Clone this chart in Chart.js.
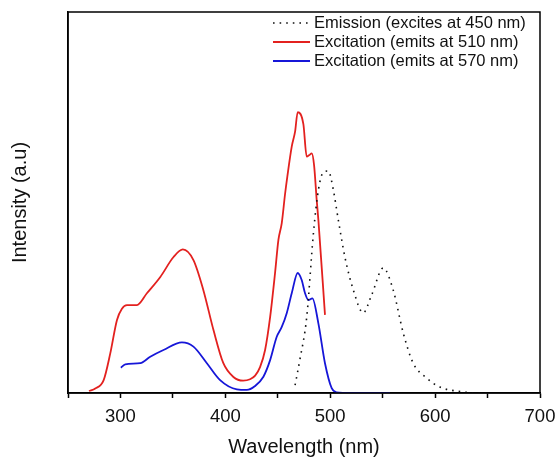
<!DOCTYPE html>
<html>
<head>
<meta charset="utf-8">
<script src="https://cdn.jsdelivr.net/npm/chart.js@4"></script>
<style>
  html, body { margin: 0; padding: 0; background: #fff; }
  #wrap { width: 559px; height: 459px; }
</style>
</head>
<body>
<div id="wrap"><canvas id="grafico" width="559" height="459"></canvas></div>
<script>
// emission spectrum (excited at 450 nm)
var emisLambda = [466.5, 471, 477.6, 484, 488.7, 493.5, 498.2, 503, 507.7, 514, 522, 531.5, 539.5, 550.6, 560, 569.6, 579, 592, 604.6, 620.5, 642.7, 650];
var emisInt = [0.028, 0.117, 0.27, 0.569, 0.722, 0.786, 0.79, 0.722, 0.616, 0.484, 0.367, 0.285, 0.349, 0.445, 0.367, 0.214, 0.107, 0.053, 0.021, 0.007, 0.0, 0.0];

// excitation, emission monitored at 510 nm
var exc510Lambda = [270, 276, 284, 290.3, 296.7, 301.4, 306.2, 315.7, 325.2, 338, 350.6, 359.5, 369.6, 379, 388.7, 398, 407.7, 417, 423.6, 428.4, 433.1, 437.9, 442.7, 447.4, 450.6, 453.8, 457, 459.1, 463.3, 466.5, 469, 474.4, 477.6, 480.1, 482.4, 484.6, 487.1, 488.7, 495];
var exc510Int = [0.007, 0.016, 0.046, 0.141, 0.26, 0.30, 0.313, 0.313, 0.355, 0.413, 0.484, 0.511, 0.473, 0.367, 0.224, 0.107, 0.057, 0.044, 0.049, 0.062, 0.092, 0.153, 0.27, 0.427, 0.545, 0.605, 0.71, 0.77, 0.877, 0.93, 1.0, 0.957, 0.841, 0.847, 0.853, 0.811, 0.687, 0.616, 0.278];

// excitation, emission monitored at 570 nm
var exc570Lambda = [300.4, 304.6, 318.9, 328.4, 341, 358.6, 369.6, 382.4, 395, 411, 420.5, 428, 436.3, 442.7, 449, 453.8, 458.6, 463.3, 469, 472.8, 476, 479.2, 483, 488.7, 495, 501.4, 506, 520, 557];
var exc570Int = [0.09, 0.102, 0.106, 0.129, 0.153, 0.18, 0.165, 0.106, 0.046, 0.013, 0.011, 0.024, 0.058, 0.117, 0.2, 0.235, 0.285, 0.355, 0.427, 0.402, 0.355, 0.331, 0.337, 0.248, 0.106, 0.017, 0.002, 0.0, 0.0];

var xTicks = [300, 400, 500, 600, 700];
var nomes = ["Emission (excites at 450 nm)", "Excitation (emits at 510 nm)", "Excitation (emits at 570 nm)"];

function pares(xs, ys) {
    return xs.map(function(x, i) { return { x: x, y: ys[i] }; });
}

var fonte = "'Liberation Sans', Arial, sans-serif";

// box around plot + legend inside the plot area
var caixaPlugin = {
    id: "caixa",
    afterDraw: function(chart) {
        var ctx = chart.ctx;
        var a = chart.chartArea;
        ctx.save();
        ctx.strokeStyle = "#000";
        ctx.lineWidth = 1.5;
        ctx.strokeRect(a.left, a.top, a.right - a.left, a.bottom - a.top);

        ctx.font = "16.5px " + fonte;
        ctx.textBaseline = "middle";
        ctx.fillStyle = "#111";
        chart.data.datasets.forEach(function(ds, i) {
            var y = a.top + 11 + i * 19;
            ctx.beginPath();
            ctx.strokeStyle = ds.borderColor;
            ctx.lineWidth = ds.borderWidth;
            ctx.setLineDash(ds.borderDash || []);
            ctx.moveTo(a.left + 205, y);
            ctx.lineTo(a.left + 242, y);
            ctx.stroke();
            ctx.setLineDash([]);
            ctx.fillText(ds.label, a.left + 246, y);
        });
        ctx.restore();
    }
};

var ctx = document.getElementById("grafico").getContext("2d");
var grafico = new Chart(ctx, {
    type: "line",
    data: {
        datasets: [{
            label: nomes[0],
            data: pares(emisLambda, emisInt),
            borderColor: "#111",
            borderWidth: 1.6,
            borderDash: [1.6, 5],
            pointRadius: 0,
            cubicInterpolationMode: "monotone"
        }, {
            label: nomes[1],
            data: pares(exc510Lambda, exc510Int),
            borderColor: "#e3211f",
            borderWidth: 1.8,
            pointRadius: 0,
            cubicInterpolationMode: "monotone"
        }, {
            label: nomes[2],
            data: pares(exc570Lambda, exc570Int),
            borderColor: "#1616d8",
            borderWidth: 1.8,
            pointRadius: 0,
            cubicInterpolationMode: "monotone"
        }]
    },
    options: {
        responsive: false,
        animation: false,
        layout: { padding: { top: 12, right: 19, left: 0, bottom: 0 } },
        plugins: {
            legend: { display: false },
            tooltip: { enabled: false }
        },
        scales: {
            x: {
                type: "linear",
                min: 250,
                max: 700,
                afterBuildTicks: function(axis) {
                    var t = [];
                    for (var v = 250; v <= 700; v += 50) t.push({ value: v });
                    axis.ticks = t;
                },
                ticks: {
                    autoSkip: false,
                    maxRotation: 0,
                    padding: 8,
                    color: "#111",
                    font: { family: fonte, size: 18.5 },
                    callback: function(v) { return xTicks.indexOf(v) >= 0 ? String(v) : ""; }
                },
                grid: {
                    drawOnChartArea: false,
                    tickLength: 5,
                    tickColor: "#000",
                    tickWidth: 1.5
                },
                border: { color: "#000", width: 1.5 },
                title: {
                    display: true,
                    text: "Wavelength (nm)",
                    color: "#111",
                    font: { family: fonte, size: 20 },
                    padding: { top: 0, bottom: 0 }
                },
                afterFit: function(axis) {
                    axis.height = 66;
                    axis.paddingLeft = 0;
                    axis.paddingRight = 0;
                }
            },
            y: {
                min: 0,
                max: 1.356,
                ticks: { display: false },
                grid: { display: false },
                border: { color: "#000", width: 1.5 },
                title: {
                    display: true,
                    text: "Intensity (a.u)",
                    color: "#111",
                    font: { family: fonte, size: 20 },
                    padding: { top: 8, bottom: 0 }
                },
                afterFit: function(axis) { axis.width = 68; }
            }
        }
    },
    plugins: [caixaPlugin]
});
</script>
</body>
</html>
